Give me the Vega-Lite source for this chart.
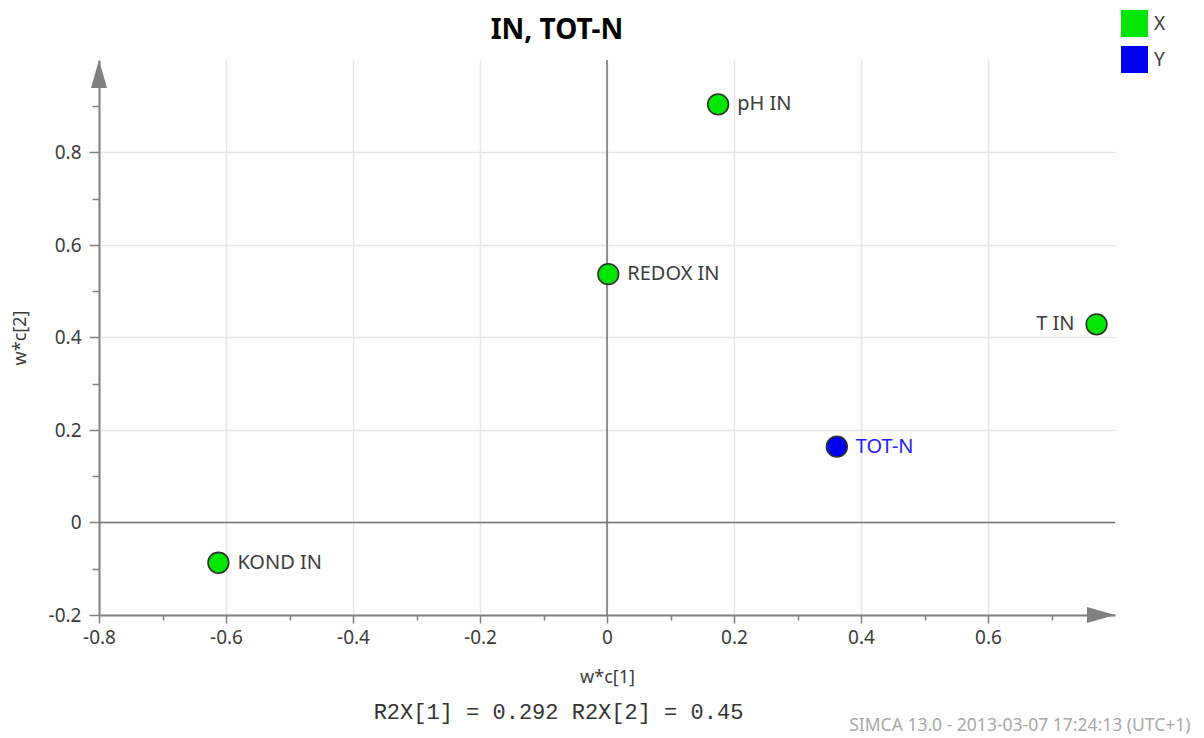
{
  "$schema": "https://vega.github.io/schema/vega-lite/v6.json",
  "width": 1016,
  "height": 555,
  "autosize": {"type": "none"},
  "padding": {"left": 99, "top": 60, "right": 89, "bottom": 123},
  "background": "white",
  "title": {"text": "IN, TOT-N", "font": "Noto Sans", "fontSize": 28, "fontWeight": "bold", "color": "#000000", "anchor": "middle", "frame": "group", "dx": -50, "dy": 80, "baseline": "alphabetic", "offset": 23},
  "config": {"view": {"stroke": null}, "font": "Noto Sans"},
  "datasets": {
    "loadings": [
      {"name": "pH IN", "x": 0.175, "y": 0.904, "block": "X"},
      {"name": "REDOX IN", "x": 0.002, "y": 0.537, "block": "X"},
      {"name": "T IN", "x": 0.771, "y": 0.4285, "block": "X"},
      {"name": "KOND IN", "x": -0.612, "y": -0.087, "block": "X"},
      {"name": "TOT-N", "x": 0.362, "y": 0.164, "block": "Y"}
    ],
    "zero": [{"v": 0}],
    "arrowUp": [{"x": -0.8, "y": 0.97}],
    "arrowRight": [{"x": 0.778, "y": -0.2}]
  },
  "layer": [
    {
      "data": {"name": "zero"},
      "mark": {"type": "rule", "color": "#707070", "strokeWidth": 1.5},
      "encoding": {
        "y": {"field": "v", "type": "quantitative", "scale": {"domain": [-0.2, 1.0], "nice": false, "zero": false},
          "axis": {"orient": "left", "values": [-0.1, 0.1, 0.3, 0.5, 0.7, 0.9], "labels": false, "domain": false, "grid": false, "ticks": true, "tickSize": 7, "tickColor": "#808080", "tickWidth": 1.5, "title": null}}
      }
    },
    {
      "data": {"name": "zero"},
      "mark": {"type": "rule", "color": "#707070", "strokeWidth": 1.5},
      "encoding": {
        "x": {"field": "v", "type": "quantitative", "scale": {"domain": [-0.8, 0.8], "nice": false, "zero": false},
          "axis": {"orient": "bottom", "values": [-0.7, -0.5, -0.3, -0.1, 0.1, 0.3, 0.5, 0.7], "labels": false, "domain": false, "grid": false, "ticks": true, "tickSize": 5, "tickColor": "#808080", "tickWidth": 1.5, "title": null}}
      }
    },
    {
      "data": {"name": "loadings"},
      "mark": {"type": "point", "shape": "circle", "filled": true, "size": 430, "stroke": "#303030", "strokeWidth": 1.6, "opacity": 1},
      "encoding": {
        "x": {"field": "x", "type": "quantitative", "scale": {"domain": [-0.8, 0.8], "nice": false, "zero": false},
          "axis": {"orient": "bottom", "values": [-0.8, -0.6, -0.4, -0.2, 0, 0.2, 0.4, 0.6], "labelExpr": "datum.value < 0 ? '-' + format(-datum.value, '~g') : format(datum.value, '~g')", "labelFont": "Noto Sans", "labelFontSize": 19, "labelColor": "#3c3c3c", "labelPadding": 5, "labelFlush": false, "labelOverlap": false, "tickSize": 8, "tickColor": "#808080", "tickWidth": 1.5, "domainColor": "#808080", "domainWidth": 2, "grid": true, "gridColor": "#e6e6e6", "gridWidth": 1.5, "title": "w*c[1]", "titleFont": "Noto Sans", "titleFontSize": 18, "titleFontWeight": "normal", "titleColor": "#3c3c3c", "titleY": 62, "titleBaseline": "middle"}},
        "y": {"field": "y", "type": "quantitative", "scale": {"domain": [-0.2, 1.0], "nice": false, "zero": false},
          "axis": {"orient": "left", "values": [-0.2, 0, 0.2, 0.4, 0.6, 0.8], "labelExpr": "datum.value < 0 ? '-' + format(-datum.value, '~g') : format(datum.value, '~g')", "labelFont": "Noto Sans", "labelFontSize": 19, "labelColor": "#3c3c3c", "labelPadding": 8, "labelFlush": false, "labelOverlap": false, "tickSize": 10, "tickColor": "#808080", "tickWidth": 1.5, "domainColor": "#808080", "domainWidth": 2, "grid": true, "gridColor": "#e6e6e6", "gridWidth": 1.5, "title": "w*c[2]", "titleFont": "Noto Sans", "titleFontSize": 18, "titleFontWeight": "normal", "titleColor": "#3c3c3c", "titleX": -79, "titleY": 277.5, "titleAngle": -90, "titleAlign": "center", "titleBaseline": "middle"}},
        "color": {"field": "block", "type": "nominal", "scale": {"domain": ["X", "Y"], "range": ["#00E600", "#0000EE"]},
          "legend": {"orient": "none", "legendX": 1022, "legendY": -50, "title": null, "symbolType": "square", "symbolSize": 729, "symbolStrokeWidth": 0, "symbolOpacity": 1, "labelFont": "Noto Sans", "labelFontSize": 19, "labelColor": "#3c3c3c", "labelOffset": 6, "rowPadding": 9, "padding": 0}}
      }
    },
    {
      "data": {"name": "loadings"},
      "transform": [{"filter": "datum.name !== 'T IN'"}],
      "mark": {"type": "text", "align": "left", "baseline": "middle", "dx": 19, "font": "Noto Sans", "fontSize": 20},
      "encoding": {
        "x": {"field": "x", "type": "quantitative", "scale": {"domain": [-0.8, 0.8], "nice": false, "zero": false}, "axis": null},
        "y": {"field": "y", "type": "quantitative", "scale": {"domain": [-0.2, 1.0], "nice": false, "zero": false}, "axis": null},
        "text": {"field": "name"},
        "color": {"condition": {"test": "datum.block === 'Y'", "value": "#2222ff"}, "value": "#3c3c3c"}
      }
    },
    {
      "data": {"name": "loadings"},
      "transform": [{"filter": "datum.name === 'T IN'"}],
      "mark": {"type": "text", "align": "right", "baseline": "middle", "dx": -22, "font": "Noto Sans", "fontSize": 20, "color": "#3c3c3c"},
      "encoding": {
        "x": {"field": "x", "type": "quantitative", "scale": {"domain": [-0.8, 0.8], "nice": false, "zero": false}, "axis": null},
        "y": {"field": "y", "type": "quantitative", "scale": {"domain": [-0.2, 1.0], "nice": false, "zero": false}, "axis": null},
        "text": {"field": "name"}
      }
    },
    {
      "data": {"name": "arrowUp"},
      "mark": {"type": "point", "shape": "M0,-1L0.57,1L-0.57,1Z", "size": 784, "filled": true, "color": "#808080", "opacity": 1, "strokeWidth": 0},
      "encoding": {
        "x": {"field": "x", "type": "quantitative", "scale": {"domain": [-0.8, 0.8], "nice": false, "zero": false},
          "axis": {"orient": "bottom", "labels": false, "ticks": false, "domain": false, "grid": false, "title": "R2X[1] = 0.292 R2X[2] = 0.45", "titleFont": "Liberation Mono", "titleFontSize": 22, "titleFontWeight": "normal", "titleColor": "#333333", "titleX": 459, "titleY": 96, "titleAlign": "center", "titleBaseline": "middle"}},
        "y": {"field": "y", "type": "quantitative", "scale": {"domain": [-0.2, 1.0], "nice": false, "zero": false}, "axis": null}
      }
    },
    {
      "data": {"name": "arrowRight"},
      "mark": {"type": "point", "shape": "M1,0L-1,-0.57L-1,0.57Z", "size": 784, "filled": true, "color": "#808080", "opacity": 1, "strokeWidth": 0},
      "encoding": {
        "x": {"field": "x", "type": "quantitative", "scale": {"domain": [-0.8, 0.8], "nice": false, "zero": false},
          "axis": {"orient": "bottom", "labels": false, "ticks": false, "domain": false, "grid": false, "title": "SIMCA 13.0 - 2013-03-07 17:24:13 (UTC+1)", "titleFont": "Noto Sans", "titleFontSize": 17.5, "titleFontWeight": "normal", "titleColor": "#a8a8a8", "titleX": 1091, "titleY": 110, "titleAlign": "right", "titleBaseline": "middle"}},
        "y": {"field": "y", "type": "quantitative", "scale": {"domain": [-0.2, 1.0], "nice": false, "zero": false}, "axis": null}
      }
    }
  ],
  "resolve": {"axis": {"x": "independent", "y": "independent"}}
}
